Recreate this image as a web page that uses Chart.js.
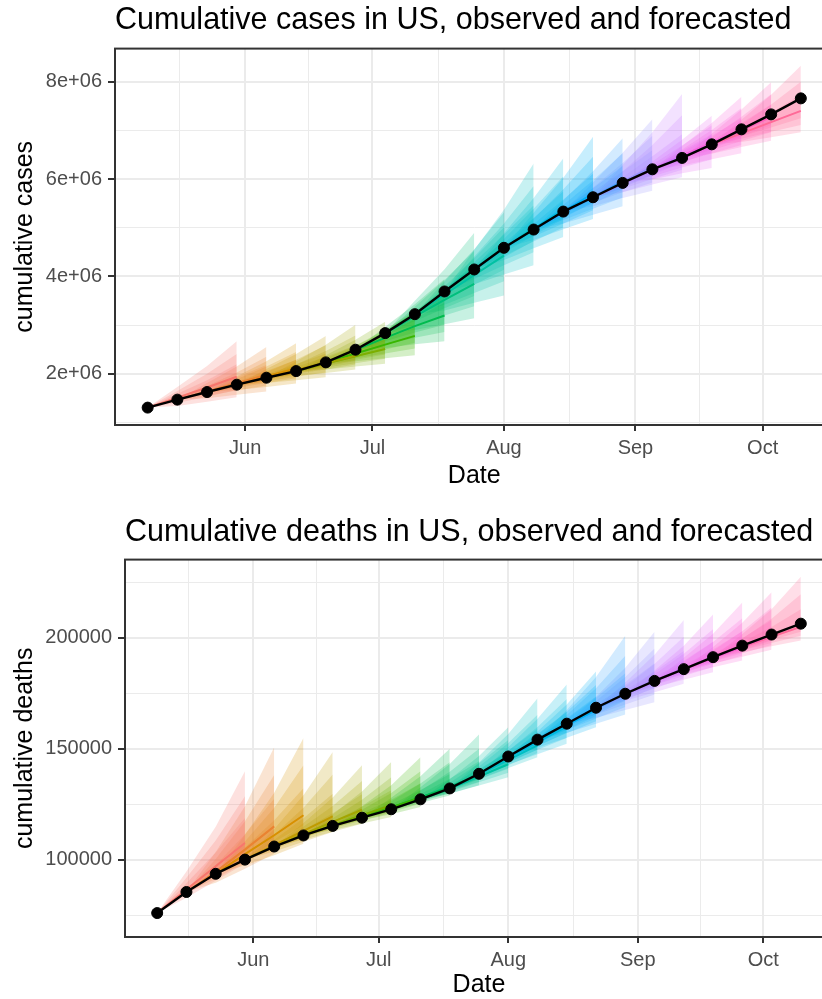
<!DOCTYPE html>
<html>
<head>
<meta charset="utf-8">
<script src="https://cdn.jsdelivr.net/npm/chart.js@4.4.0/dist/chart.umd.min.js"></script>
<style>
  html, body { margin: 0; padding: 0; background: #fff; overflow: hidden; }
  #wrap { position: relative; width: 822px; height: 999px; overflow: hidden; }
  canvas { position: absolute; left: 0; }
  #casesChart { top: 0; }
  #deathsChart { top: 500px; }
</style>
</head>
<body>
<div id="wrap">
  <canvas id="casesChart" width="840" height="491"></canvas>
  <canvas id="deathsChart" width="840" height="500"></canvas>
</div>
<script>
// week-ending dates of the observed series
const weekEnding = ['2020-05-09', '2020-05-16', '2020-05-23', '2020-05-30', '2020-06-06', '2020-06-13',
  '2020-06-20', '2020-06-27', '2020-07-04', '2020-07-11', '2020-07-18', '2020-07-25', '2020-08-01',
  '2020-08-08', '2020-08-15', '2020-08-22', '2020-08-29', '2020-09-05', '2020-09-12', '2020-09-19',
  '2020-09-26', '2020-10-03', '2020-10-10'];

// month breaks for the date axis
const monthStarts = ['2020-05-01', '2020-06-01', '2020-07-01', '2020-08-01', '2020-09-01', '2020-10-01', '2020-11-01'];
const monthNames = ['May', 'Jun', 'Jul', 'Aug', 'Sep', 'Oct', 'Nov'];

// observed cumulative counts (cases in millions, deaths in thousands)
const casesObserved = [1.307, 1.471, 1.627, 1.778, 1.921, 2.057, 2.236, 2.496, 2.837, 3.226, 3.692, 4.144,
  4.589, 4.964, 5.333, 5.627, 5.922, 6.201, 6.435, 6.714, 7.022, 7.329, 7.658];
const deathsObserved = [75.9, 85.4, 93.6, 100.0, 105.9, 110.9, 115.2, 118.9, 122.7, 127.2, 132.1, 138.7,
  146.5, 154.1, 161.3, 168.5, 174.8, 180.6, 185.9, 191.3, 196.5, 201.5, 206.4];

// forecast quantiles, one entry per forecast (starting at week i), rows = 1, 2, 3 weeks ahead
// each row: [q0.025, q0.10, q0.25, median, q0.75, q0.90, q0.975]
const casesForecast = [
  [[1.34, 1.40, 1.45, 1.51, 1.59, 1.65, 1.73], [1.43, 1.53, 1.62, 1.72, 1.87, 2.00, 2.16], [1.52, 1.67, 1.79, 1.94, 2.20, 2.41, 2.67]],
  [[1.50, 1.55, 1.59, 1.64, 1.70, 1.75, 1.81], [1.57, 1.66, 1.73, 1.81, 1.93, 2.03, 2.15], [1.64, 1.76, 1.86, 1.98, 2.18, 2.35, 2.55]],
  [[1.67, 1.71, 1.75, 1.79, 1.84, 1.89, 1.95], [1.73, 1.81, 1.87, 1.95, 2.06, 2.15, 2.26], [1.80, 1.91, 2.00, 2.11, 2.29, 2.45, 2.63]],
  [[1.81, 1.85, 1.89, 1.93, 1.99, 2.04, 2.10], [1.87, 1.94, 2.01, 2.08, 2.20, 2.29, 2.41], [1.93, 2.03, 2.12, 2.23, 2.42, 2.59, 2.78]],
  [[1.96, 2.00, 2.03, 2.07, 2.14, 2.19, 2.26], [2.02, 2.09, 2.15, 2.22, 2.35, 2.47, 2.60], [2.09, 2.19, 2.27, 2.37, 2.59, 2.79, 3.01]],
  [[2.09, 2.13, 2.17, 2.21, 2.27, 2.32, 2.38], [2.15, 2.22, 2.29, 2.36, 2.48, 2.58, 2.70], [2.21, 2.31, 2.40, 2.51, 2.71, 2.87, 3.07]],
  [[2.26, 2.32, 2.36, 2.42, 2.47, 2.52, 2.58], [2.32, 2.42, 2.50, 2.60, 2.71, 2.80, 2.91], [2.38, 2.52, 2.64, 2.78, 2.96, 3.12, 3.30]],
  [[2.53, 2.60, 2.67, 2.74, 2.82, 2.89, 2.97], [2.61, 2.74, 2.85, 2.98, 3.14, 3.27, 3.43], [2.67, 2.86, 3.01, 3.20, 3.46, 3.69, 3.95]],
  [[2.90, 3.00, 3.08, 3.18, 3.29, 3.38, 3.50], [3.02, 3.20, 3.35, 3.52, 3.74, 3.93, 4.15], [3.14, 3.39, 3.60, 3.85, 4.22, 4.53, 4.90]],
  [[3.30, 3.42, 3.52, 3.63, 3.72, 3.80, 3.90], [3.46, 3.66, 3.83, 4.03, 4.22, 4.38, 4.56], [3.61, 3.90, 4.14, 4.43, 4.74, 5.01, 5.32]],
  [[3.84, 3.95, 4.04, 4.15, 4.29, 4.41, 4.55], [4.04, 4.23, 4.39, 4.58, 4.86, 5.09, 5.37], [4.23, 4.50, 4.73, 5.00, 5.46, 5.86, 6.32]],
  [[4.34, 4.42, 4.49, 4.57, 4.68, 4.77, 4.89], [4.58, 4.72, 4.84, 4.98, 5.20, 5.39, 5.61], [4.81, 5.01, 5.18, 5.38, 5.75, 6.06, 6.43]],
  [[4.75, 4.82, 4.89, 4.96, 5.08, 5.19, 5.31], [4.97, 5.09, 5.20, 5.33, 5.58, 5.79, 6.03], [5.18, 5.36, 5.52, 5.70, 6.11, 6.46, 6.87]],
  [[5.09, 5.16, 5.23, 5.30, 5.39, 5.47, 5.56], [5.27, 5.39, 5.50, 5.63, 5.81, 5.97, 6.16], [5.44, 5.62, 5.78, 5.96, 6.27, 6.53, 6.84]],
  [[5.44, 5.51, 5.57, 5.64, 5.74, 5.83, 5.93], [5.61, 5.73, 5.83, 5.95, 6.16, 6.33, 6.54], [5.76, 5.93, 6.08, 6.25, 6.59, 6.89, 7.23]],
  [[5.73, 5.80, 5.85, 5.91, 6.04, 6.16, 6.29], [5.89, 6.00, 6.09, 6.20, 6.47, 6.70, 6.96], [6.04, 6.19, 6.33, 6.48, 6.92, 7.31, 7.75]],
  [[5.99, 6.06, 6.12, 6.19, 6.25, 6.30, 6.36], [6.12, 6.24, 6.34, 6.46, 6.58, 6.69, 6.81], [6.23, 6.40, 6.55, 6.72, 6.92, 7.10, 7.30]],
  [[6.28, 6.35, 6.41, 6.48, 6.55, 6.61, 6.68], [6.41, 6.53, 6.63, 6.75, 6.89, 7.01, 7.15], [6.53, 6.70, 6.85, 7.02, 7.25, 7.46, 7.69]],
  [[6.52, 6.59, 6.65, 6.72, 6.79, 6.86, 6.93], [6.66, 6.78, 6.88, 7.00, 7.15, 7.28, 7.43], [6.79, 6.96, 7.11, 7.28, 7.53, 7.74, 7.99]],
  [[6.76, 6.83, 6.88, 6.94, 7.04, 7.12, 7.22], [6.86, 6.97, 7.06, 7.17, 7.37, 7.53, 7.73], [6.96, 7.11, 7.25, 7.40, 7.73, 8.00, 8.33]]
];

const deathsForecast = [
  [[82.8, 84.1, 85.2, 86.5, 89.3, 91.8, 94.6], [90.5, 92.8, 94.7, 97.0, 103.2, 108.6, 114.8], [98.2, 101.5, 104.2, 107.5, 118.8, 128.6, 139.9]],
  [[89.6, 91.3, 92.8, 94.5, 97.6, 100.3, 103.4], [95.9, 98.9, 101.5, 104.5, 111.4, 117.3, 124.1], [102.7, 107.0, 110.7, 115.0, 127.5, 138.2, 150.7]],
  [[97.4, 99.2, 100.7, 102.5, 105.5, 108.2, 111.2], [102.0, 105.2, 107.9, 111.0, 117.7, 123.4, 130.1], [107.2, 111.7, 115.5, 120.0, 132.2, 142.6, 154.8]],
  [[103.7, 104.7, 105.5, 106.5, 109.0, 111.2, 113.8], [108.0, 109.8, 111.3, 113.0, 118.6, 123.4, 129.0], [112.4, 114.9, 117.0, 119.5, 129.7, 138.4, 148.5]],
  [[109.0, 109.9, 110.6, 111.5, 113.3, 114.8, 116.5], [112.6, 114.1, 115.5, 117.0, 120.9, 124.2, 128.0], [116.2, 118.4, 120.3, 122.5, 129.5, 135.5, 142.5]],
  [[113.4, 114.1, 114.8, 115.5, 117.2, 118.7, 120.4], [116.3, 117.6, 118.7, 120.0, 123.8, 127.0, 130.7], [119.2, 121.1, 122.6, 124.5, 131.3, 137.2, 144.0]],
  [[117.8, 118.4, 118.9, 119.5, 121.1, 122.5, 124.1], [120.5, 121.5, 122.4, 123.5, 127.0, 130.0, 133.5], [123.7, 125.2, 126.5, 128.0, 134.4, 139.8, 146.2]],
  [[122.1, 122.6, 123.0, 123.5, 125.0, 126.3, 127.9], [125.5, 126.4, 127.1, 128.0, 131.4, 134.3, 137.6], [128.9, 130.2, 131.2, 132.5, 138.6, 143.9, 150.0]],
  [[126.2, 126.8, 127.4, 128.0, 129.6, 131.0, 132.6], [129.8, 131.0, 131.9, 133.0, 136.5, 139.6, 143.1], [133.5, 135.1, 136.4, 138.0, 144.4, 150.0, 156.4]],
  [[129.7, 130.5, 131.2, 132.0, 133.5, 134.7, 136.2], [133.4, 134.9, 136.1, 137.5, 140.7, 143.5, 146.7], [137.2, 139.2, 141.0, 143.0, 148.8, 153.9, 159.7]],
  [[136.4, 137.1, 137.8, 138.5, 140.4, 142.0, 143.8], [141.3, 142.6, 143.7, 145.0, 149.1, 152.6, 156.7], [146.2, 148.1, 149.6, 151.5, 159.0, 165.3, 172.8]],
  [[142.9, 144.0, 144.9, 146.0, 147.7, 149.1, 150.8], [147.5, 149.5, 151.1, 153.0, 156.7, 159.8, 163.5], [152.2, 154.9, 157.3, 160.0, 166.7, 172.4, 179.0]],
  [[150.4, 151.5, 152.4, 153.5, 155.0, 156.3, 157.8], [155.0, 157.0, 158.6, 160.5, 163.8, 166.7, 170.0], [159.7, 162.4, 164.8, 167.5, 173.6, 178.7, 184.8]],
  [[157.2, 158.5, 159.7, 161.0, 163.3, 165.2, 167.5], [161.3, 163.6, 165.6, 168.0, 173.0, 177.3, 182.3], [165.4, 168.8, 171.6, 175.0, 184.1, 191.9, 201.0]],
  [[164.0, 165.4, 166.6, 168.0, 169.9, 171.5, 173.5], [167.5, 169.9, 172.0, 174.5, 178.7, 182.3, 186.5], [171.0, 174.5, 177.5, 181.0, 188.6, 195.2, 202.8]],
  [[171.6, 172.6, 173.5, 174.5, 176.4, 178.0, 179.9], [175.5, 177.2, 178.7, 180.5, 184.7, 188.2, 192.4], [179.3, 181.8, 184.0, 186.5, 194.1, 200.5, 208.1]],
  [[177.7, 178.7, 179.5, 180.5, 182.2, 183.6, 185.3], [181.1, 182.8, 184.3, 186.0, 189.7, 192.8, 196.5], [184.5, 186.9, 189.0, 191.5, 198.2, 203.9, 210.5]],
  [[183.5, 184.4, 185.1, 186.0, 187.7, 189.2, 191.0], [186.7, 188.2, 189.5, 191.0, 194.8, 198.1, 201.9], [189.8, 192.0, 193.8, 196.0, 203.0, 208.9, 215.9]],
  [[188.4, 189.3, 190.1, 191.0, 192.7, 194.2, 195.9], [191.5, 193.1, 194.4, 196.0, 199.8, 203.0, 206.8], [194.6, 196.8, 198.8, 201.0, 207.9, 213.7, 220.6]],
  [[193.5, 194.4, 195.1, 196.0, 198.0, 199.7, 201.7], [196.2, 197.7, 199.0, 200.5, 204.9, 208.6, 212.9], [198.8, 201.0, 202.8, 205.0, 212.9, 219.7, 227.6]]
];

// y gridline positions
const casesGrid = [1, 2, 3, 4, 5, 6, 7, 8];
const deathsGrid = [75, 100, 125, 150, 175, 200, 225];

const FONT = "'Liberation Sans', Arial, Helvetica, sans-serif";
const DAY = 86400000;
const toDay = s => (Date.parse(s) - Date.parse('2020-01-01')) / DAY + 1;

const weekX = weekEnding.map(toDay);
const monthX = monthStarts.map(toDay);
const span = weekX[weekX.length - 1] - weekX[0];
const xMin = weekX[0] - 0.05 * span;
const xMax = weekX[weekX.length - 1] + 0.05 * span;
const midMonthX = monthX.slice(1).map((d, i) => (d + monthX[i]) / 2);
const xTicks = monthX.concat(midMonthX).filter(v => v >= xMin && v <= xMax).sort((a, b) => a - b);
const isMonth = v => monthX.includes(v);

// ggplot-style hue palette (HCL, c = 100, l = 65)
function hcl(h, c, l) {
  const hr = h * Math.PI / 180;
  const U = c * Math.cos(hr), V = c * Math.sin(hr);
  const Xn = 95.047, Yn = 100, Zn = 108.883;
  const un = 4 * Xn / (Xn + 15 * Yn + 3 * Zn), vn = 9 * Yn / (Xn + 15 * Yn + 3 * Zn);
  const Y = l > 8 ? Yn * Math.pow((l + 16) / 116, 3) : Yn * l / 903.3;
  const u = U / (13 * l) + un, v = V / (13 * l) + vn;
  const X = 9 * Y * u / (4 * v);
  const Z = (9 * Y / v - X - 15 * Y) / 3;
  const x = X / 100, y = Y / 100, z = Z / 100;
  const lin = [
    3.240479 * x - 1.537150 * y - 0.498535 * z,
    -0.969256 * x + 1.875992 * y + 0.041556 * z,
    0.055648 * x - 0.204043 * y + 1.057311 * z
  ];
  return lin.map(t => {
    const g = t <= 0.0031308 ? 12.92 * t : 1.055 * Math.pow(t, 1 / 2.4) - 0.055;
    return Math.round(Math.min(1, Math.max(0, g)) * 255);
  });
}
const huePalette = n => Array.from({ length: n }, (_, i) => hcl(15 + 360 * i / n, 100, 65));
const rgba = (c, a) => `rgba(${c[0]}, ${c[1]}, ${c[2]}, ${a})`;

function buildDatasets(observed, forecast) {
  const colours = huePalette(forecast.length);
  const sets = [];
  const pts = (xs, ys) => xs.map((x, i) => ({ x, y: ys[i] }));

  forecast.forEach((fan, i) => {
    const xs = weekX.slice(i, i + 4);
    const series = q => [observed[i]].concat(fan.map(row => row[q]));
    // 95%, 80% and 50% bands
    [[6, 0], [5, 1], [4, 2]].forEach(([hi, lo]) => {
      sets.push({
        data: pts(xs, series(hi)), fill: '+1', backgroundColor: rgba(colours[i], 0.22),
        borderColor: 'rgba(0,0,0,0)', borderWidth: 0, pointRadius: 0, order: 3
      });
      sets.push({
        data: pts(xs, series(lo)), fill: false,
        borderColor: 'rgba(0,0,0,0)', borderWidth: 0, pointRadius: 0, order: 3
      });
    });
  });

  forecast.forEach((fan, i) => {
    const xs = weekX.slice(i, i + 4);
    sets.push({
      data: pts(xs, [observed[i]].concat(fan.map(row => row[3]))), fill: false,
      borderColor: rgba(colours[i], 1), borderWidth: 2, pointRadius: 0, order: 2
    });
  });

  sets.push({
    data: pts(weekX, observed), fill: false, borderColor: '#000', borderWidth: 2.4,
    pointRadius: 5.5, pointBackgroundColor: '#000', pointBorderColor: '#000', pointBorderWidth: 1, order: 1
  });
  return sets;
}

const panelBorder = {
  id: 'panelBorder',
  afterDatasetsDraw(chart) {
    const { ctx, chartArea: a } = chart;
    ctx.save();
    ctx.strokeStyle = '#333333';
    ctx.lineWidth = 2;
    ctx.strokeRect(a.left, a.top, a.right - a.left, a.bottom - a.top);
    ctx.restore();
  }
};

function makeChart(id, cfg) {
  const canvas = document.getElementById(id);
  return new Chart(canvas, {
    type: 'line',
    data: { datasets: buildDatasets(cfg.observed, cfg.forecast) },
    plugins: [panelBorder],
    options: {
      responsive: false,
      animation: false,
      events: [],
      devicePixelRatio: 1,
      layout: { padding: { left: 0, right: cfg.padRight, top: 0, bottom: 0 } },
      plugins: {
        legend: { display: false },
        tooltip: { enabled: false },
        title: {
          display: true, text: cfg.title, align: 'start', fullSize: false, color: '#000',
          font: { family: FONT, size: 30.5, weight: 'normal' },
          padding: { top: cfg.titleTop, bottom: cfg.titleBottom }
        }
      },
      scales: {
        x: {
          type: 'linear', min: xMin, max: xMax,
          afterBuildTicks: s => { s.ticks = xTicks.map(v => ({ value: v })); },
          afterFit: s => { s.height = canvas.height - cfg.plotBottom; },
          border: { display: false },
          grid: {
            color: '#EBEBEB',
            lineWidth: c => isMonth(c.tick.value) ? 2 : 1,
            tickColor: c => isMonth(c.tick.value) ? '#333333' : 'rgba(0,0,0,0)',
            tickLength: 6, tickWidth: 2
          },
          ticks: {
            autoSkip: false, maxRotation: 0, padding: 5, color: '#4D4D4D',
            font: { family: FONT, size: 20 },
            callback: v => isMonth(v) ? monthNames[monthX.indexOf(v)] : ''
          },
          title: {
            display: true, text: 'Date', color: '#000',
            font: { family: FONT, size: 25 }, padding: { top: 0, bottom: 0 }
          }
        },
        y: {
          type: 'linear', min: cfg.yMin, max: cfg.yMax,
          afterBuildTicks: s => { s.ticks = cfg.grid.map(v => ({ value: v })); },
          afterFit: s => { s.width = cfg.axisWidth; },
          border: { display: false },
          grid: {
            color: '#EBEBEB',
            lineWidth: c => cfg.isMajor(c.tick.value) ? 2 : 1,
            tickColor: c => cfg.isMajor(c.tick.value) ? '#333333' : 'rgba(0,0,0,0)',
            tickLength: 7, tickWidth: 2
          },
          ticks: {
            autoSkip: false, padding: 6, color: '#4D4D4D',
            font: { family: FONT, size: 20 },
            callback: v => cfg.isMajor(v) ? cfg.label(v) : ''
          },
          title: {
            display: true, text: cfg.yTitle, color: '#000',
            font: { family: FONT, size: 25 }, padding: { top: 10, bottom: 0 }
          }
        }
      }
    }
  });
}

makeChart('casesChart', {
  title: 'Cumulative cases in US, observed and forecasted',
  yTitle: 'cumulative cases',
  observed: casesObserved, forecast: casesForecast,
  grid: casesGrid, yMin: 0.95, yMax: 8.68,
  isMajor: v => v % 2 === 0,
  label: v => v + 'e+06',
  axisWidth: 115, padRight: 6, plotBottom: 425,
  titleTop: 2, titleBottom: 10
});

makeChart('deathsChart', {
  title: 'Cumulative deaths in US, observed and forecasted',
  yTitle: 'cumulative deaths',
  observed: deathsObserved, forecast: deathsForecast,
  grid: deathsGrid, yMin: 65.1, yMax: 235.3,
  isMajor: v => v % 50 === 0,
  label: v => String(v * 1000),
  axisWidth: 125, padRight: 7, plotBottom: 437,
  titleTop: 14, titleBottom: 9
});
</script>
</body>
</html>
